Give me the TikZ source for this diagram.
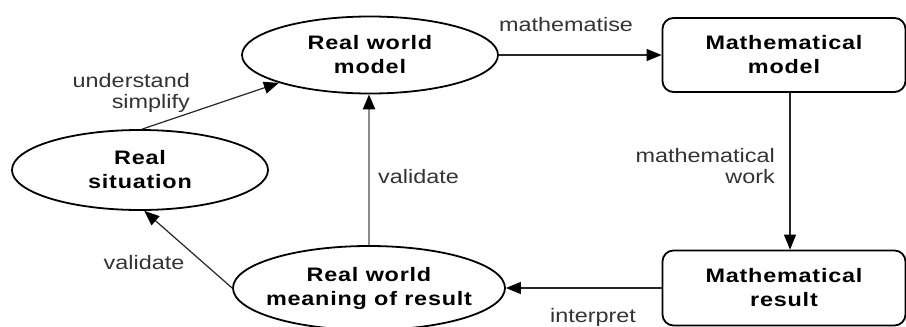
\documentclass[tikz,border=0pt]{standalone}
\usepackage{fontspec}
\setmainfont{Liberation Sans}[FakeStretch=1.2]
\usetikzlibrary{shapes.geometric,arrows.meta}
\tikzset{
  ell/.style={ellipse, draw=black, line width=1.8pt, inner sep=0pt, font=\fontsize{19.5}{24}\selectfont\bfseries\addfontfeatures{LetterSpace=4}, align=center},
  rbox/.style={rectangle, rounded corners=11pt, draw=black, line width=1.8pt, inner sep=0pt, font=\fontsize{19.5}{24}\selectfont\bfseries\addfontfeatures{LetterSpace=4}, align=center},
  lbl/.style={inner sep=0pt, font=\fontsize{19.5}{21}\selectfont, text=black!80},
  conn/.style={line width=1.2pt, draw=black!85, -{Triangle[length=15pt,width=12pt,color=black]}},
  gconn/.style={line width=2.4pt, draw=black!45, -{Triangle[length=15pt,width=12pt,color=black]}}
}
\begin{document}
\begin{tikzpicture}[x=1pt,y=-1pt]
\useasboundingbox (0,0) rectangle (906,327);
\node[ell, minimum width=256pt, minimum height=77pt] (rwm) at (370,55) {Real world\\model};
\node[ell, minimum width=256pt, minimum height=80pt] (sit) at (140,170) {Real\\situation};
\node[ell, inner xsep=-40pt, minimum width=272pt, minimum height=84pt] (mean) at (369,288) {Real world\\meaning of result};
\node[rbox, minimum width=243pt, minimum height=74pt] (mm) at (784,55) {Mathematical\\model};
\node[rbox, minimum width=243pt, minimum height=75pt] (mr) at (784,288) {Mathematical\\result};

\draw[conn] (sit.87) -- (rwm.197);
\draw[conn] (rwm.east) -- (mm.west);
\draw[conn] ([xshift=6pt]mm.south) -- ([xshift=6pt]mr.north);
\draw[conn] (mr.west) -- (mean.east);
\draw[conn] (mean.west) -- (sit.-84);
\draw[gconn] (mean.north) -- (mean.north |- rwm.south);

\node[lbl, align=right, anchor=east] (l1) at (190,93) {understand\\simplify};
\node[lbl] (l2) at (566,25) {mathematise};
\node[lbl, align=right, anchor=east] (l3) at (775,166) {mathematical\\work};
\node[lbl, anchor=west] (l4) at (378,177) {validate};
\node[lbl] (l5) at (144,263) {validate};
\node[lbl] (l6) at (593,317) {interpret};
\end{tikzpicture}
\end{document}
